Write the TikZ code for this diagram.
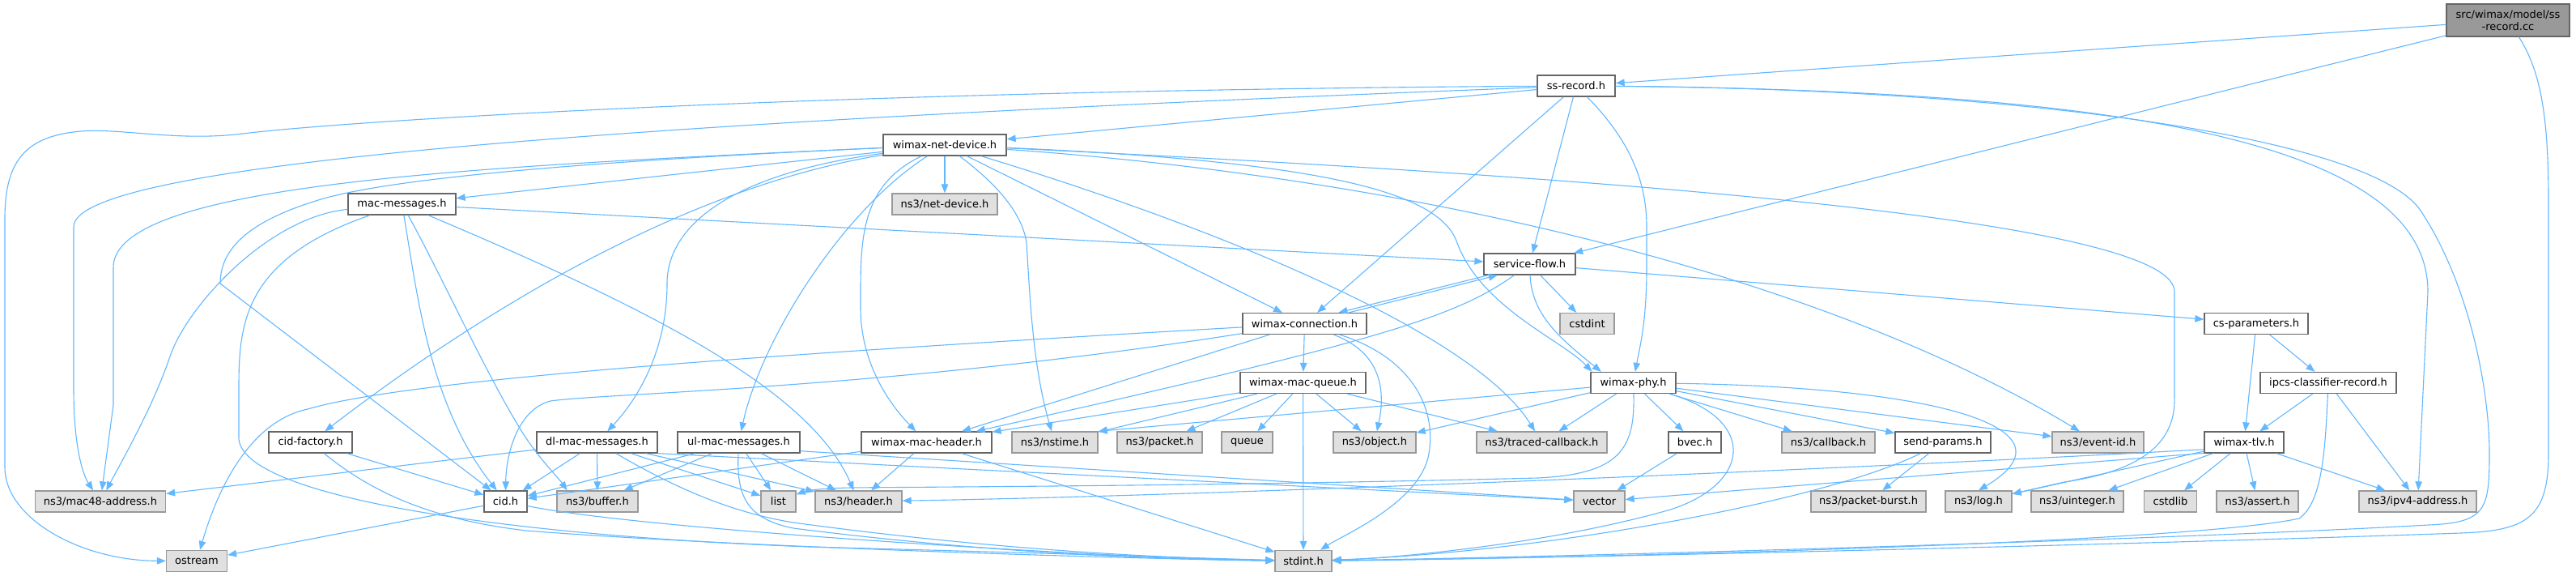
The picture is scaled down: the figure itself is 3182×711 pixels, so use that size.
\documentclass[tikz,border=0pt]{standalone}
\usepackage{fontspec}
\setmainfont{DejaVu Sans}
\usetikzlibrary{arrows.meta}
\definecolor{edgec}{HTML}{63B8FF}
\definecolor{bdark}{HTML}{666666}
\definecolor{blight}{HTML}{999999}
\definecolor{fgray}{HTML}{E0E0E0}
\definecolor{fmain}{HTML}{999999}
\begin{document}
\begin{tikzpicture}[x=1pt,y=-1pt,
  font=\fontsize{13}{15}\selectfont,
  wn/.style={draw=bdark, fill=white, line width=1.3pt, minimum height=26pt, inner sep=0pt},
  gn/.style={draw=blight, fill=fgray, line width=1.3pt, minimum height=26pt, inner sep=0pt},
  mn/.style={draw=bdark, fill=fmain, line width=1.3pt, minimum height=40pt, inner sep=0pt, align=center},
  e/.style={draw=edgec, line width=1.1pt, -{Triangle[length=11pt,width=8.5pt]}}]
\useasboundingbox (0,0) rectangle (3182,711);
\fill[white] (0,0) rectangle (3182,711);

% ---------- nodes ----------
\node[mn, minimum width=152pt] (cc) at (3098,25) {src/wimax/model/ss\\-record.cc};
\node[wn, minimum width=96pt] (ss) at (1947,106) {ss-record.h};
\node[wn, minimum width=152pt] (wnd) at (1167,179) {wimax-net-device.h};
\node[gn, minimum width=130pt] (ndev) at (1167,252) {ns3/net-device.h};
\node[wn, minimum width=133pt] (mm) at (496.5,252) {mac-messages.h};
\node[wn, minimum width=113pt] (sf) at (1889.5,326) {service-flow.h};
\node[wn, minimum width=153pt] (wc) at (1611.5,399.5) {wimax-connection.h};
\node[gn, minimum width=67pt] (cstdint) at (1960.5,399.5) {cstdint};
\node[wn, minimum width=128pt] (csp) at (2787,399.5) {cs-parameters.h};
\node[wn, minimum width=155pt] (wmq) at (1609.5,472.5) {wimax-mac-queue.h};
\node[wn, minimum width=105pt] (wphy) at (2017.5,472.5) {wimax-phy.h};
\node[wn, minimum width=168pt] (ipcs) at (2876,472.5) {ipcs-classifier-record.h};
% row 546
\node[wn, minimum width=103pt] (cidf) at (383.5,546) {cid-factory.h};
\node[wn, minimum width=149pt] (dl) at (737.5,546) {dl-mac-messages.h};
\node[wn, minimum width=151pt] (ul) at (912.5,546) {ul-mac-messages.h};
\node[wn, minimum width=161pt] (wmh) at (1144.5,546) {wimax-mac-header.h};
\node[gn, minimum width=106pt] (nstime) at (1303,546) {ns3/nstime.h};
\node[gn, minimum width=105pt] (packet) at (1432.5,546) {ns3/packet.h};
\node[gn, minimum width=63pt] (queue) at (1540.5,546) {queue};
\node[gn, minimum width=102pt] (object) at (1698,546) {ns3/object.h};
\node[gn, minimum width=161pt] (tcb) at (1904.5,546) {ns3/traced-callback.h};
\node[wn, minimum width=65pt] (bvec) at (2093.5,546) {bvec.h};
\node[gn, minimum width=115pt] (cbk) at (2258.5,546) {ns3/callback.h};
\node[wn, minimum width=118pt] (sp) at (2400,546) {send-params.h};
\node[gn, minimum width=113pt] (eid) at (2591.5,546) {ns3/event-id.h};
\node[wn, minimum width=98pt] (tlv) at (2772,546) {wimax-tlv.h};
% row 619
\node[gn, minimum width=161pt] (mac48) at (124,619) {ns3/mac48-address.h};
\node[wn, minimum width=53pt] (cid) at (624.5,619) {cid.h};
\node[gn, minimum width=100pt] (buf) at (738,619) {ns3/buffer.h};
\node[gn, minimum width=43pt] (list) at (961.5,619) {list};
\node[gn, minimum width=107pt] (hdr) at (1060.5,619) {ns3/header.h};
\node[gn, minimum width=63pt] (vec) at (1975.5,619) {vector};
\node[gn, minimum width=142pt] (pb) at (2308,619) {ns3/packet-burst.h};
\node[gn, minimum width=82pt] (log) at (2444,619) {ns3/log.h};
\node[gn, minimum width=114pt] (uint) at (2566,619) {ns3/uinteger.h};
\node[gn, minimum width=65pt] (cstdlib) at (2681,619) {cstdlib};
\node[gn, minimum width=101pt] (assert) at (2788.5,619) {ns3/assert.h};
\node[gn, minimum width=145pt] (ipv4) at (2986.5,619) {ns3/ipv4-address.h};
% row 692
\node[gn, minimum width=75pt] (ostream) at (243,692.5) {ostream};
\node[gn, minimum width=70pt] (stdint) at (1610,692.5) {stdint.h};

% ---------- edges ----------
% ss-record.cc
\draw[e] (cc) -- (ss);
\draw[e] (cc) -- (sf);
\draw[e] (cc) .. controls (3140,90) and (3148,150) .. (3148,250) -- (3148,560) .. controls (3148,640) and (3120,655) .. (3040,658) .. controls (2700,670) and (2000,688) .. (stdint);

% ss-record.h
\draw[e] (ss) -- (wnd);
\draw[e] (ss) -- (sf);
\draw[e] (ss) -- (wc);
\draw[e] (ss) .. controls (2010,170) and (2034,220) .. (2034,280) -- (2034,330) .. controls (2034,400) and (2025,430) .. (wphy);
\draw[e] (ss) .. controls (800,150) and (91,200) .. (91,280) -- (91,480) .. controls (91,560) and (105,590) .. (mac48);
\draw[e] (ss) .. controls (1000,112) and (420,150) .. (300,165) .. controls (220,175) and (150,158) .. (100,162) .. controls (30,168) and (6,200) .. (6,270) -- (6,577) .. controls (6,640) and (100,692) .. (ostream);
\draw[e] (ss) .. controls (2600,112) and (2999,170) .. (2999,360) -- (ipv4);
\draw[e] (ss) .. controls (2500,110) and (2930,170) .. (2990,260) .. controls (3050,350) and (3075,480) .. (3075,560) .. controls (3075,630) and (3070,645) .. (3000,648) .. controls (2700,665) and (2000,686) .. (stdint);

% wimax-net-device.h
\draw[e] (wnd) .. controls (600,205) and (140,225) .. (140,330) -- (140,500) -- (mac48);
\draw[e] (wnd) .. controls (700,200) and (470,222) .. (390,248) .. controls (320,270) and (272,300) .. (272,350) -- (cid);
\draw[e] (wnd) -- (mm);
\draw[e] (wnd) .. controls (900,215) and (824,280) .. (824,350) .. controls (824,430) and (790,490) .. (dl);
\draw[e] (wnd) .. controls (850,230) and (600,380) .. (cidf);
\draw[e] (wnd) .. controls (1040,260) and (940,420) .. (ul);
\draw[e] (wnd) .. controls (1060,230) and (1063,300) .. (1063,380) .. controls (1063,450) and (1100,500) .. (wmh);
\draw[e] (wnd) -- (ndev);
\draw[e] (wnd) .. controls (1215,215) and (1262,255) .. (1268,300) .. controls (1272,360) and (1275,450) .. (nstime);
\draw[e] (wnd) -- (wc);
\draw[e] (wnd) .. controls (1500,280) and (1820,410) .. (tcb);
\draw[e] (wnd) .. controls (1650,200) and (1780,240) .. (1800,300) .. controls (1830,380) and (1930,420) .. (wphy.165);
\draw[e] (wnd) .. controls (1800,210) and (2686,260) .. (2686,360) -- (2686,490) .. controls (2688,550) and (2640,582) .. (2550,595) -- (log);
\draw[e] (wnd) .. controls (1750,220) and (2250,340) .. (eid);

% mac-messages.h
\draw[e] (mm) .. controls (330,268) and (230,380) .. (210,440) .. controls (190,500) and (150,570) .. (mac48);
\draw[e] (mm) .. controls (300,320) and (295,400) .. (295,480) -- (295,540) .. controls (295,610) and (600,660) .. (1000,675) .. controls (1300,683) and (1450,688) .. (stdint);
\draw[e] (mm) .. controls (515,360) and (530,500) .. (cid);
\draw[e] (mm) .. controls (540,330) and (600,460) .. (640,525) .. controls (660,560) and (690,590) .. (buf.160);
\draw[e] (mm) .. controls (800,380) and (1000,480) .. (hdr);
\draw[e] (mm) -- (sf);

% cid-factory.h
\draw[e] (cidf) -- (cid);
\draw[e] (cidf) .. controls (450,600) and (520,640) .. (650,655) .. controls (900,675) and (1400,690) .. (stdint);

% cid.h
\draw[e] (cid) -- (ostream);
\draw[e] (cid) .. controls (800,655) and (1400,690) .. (stdint);

% dl-mac-messages.h
\draw[e] (dl) -- (mac48);
\draw[e] (dl) -- (cid);
\draw[e] (dl) -- (buf);
\draw[e] (dl) .. controls (830,600) and (900,632) .. (980,645) .. controls (1200,675) and (1400,688) .. (stdint);
\draw[e] (dl) -- (list);
\draw[e] (dl) -- (hdr);
\draw[e] (dl.south east) -- (vec);

% ul-mac-messages.h
\draw[e] (ul) -- (cid);
\draw[e] (ul) -- (buf);
\draw[e] (ul) .. controls (910,610) and (920,640) .. (980,652) .. controls (1200,680) and (1400,690) .. (stdint);
\draw[e] (ul) -- (list);
\draw[e] (ul) -- (hdr);
\draw[e] (ul.-8) -- (vec);

% wimax-mac-header.h
\draw[e] (wmh) -- (cid);
\draw[e] (wmh) -- (hdr);
\draw[e] (wmh) -- (stdint);

% wimax-connection.h
\draw[e] (wc) .. controls (900,440) and (500,470) .. (380,505) .. controls (310,520) and (270,600) .. (ostream);
\draw[e] (wc) .. controls (1100,480) and (750,485) .. (680,495) .. controls (640,505) and (625,560) .. (cid);
\draw[e] (wc) -- (wmh);
\draw[e] (wc) -- (wmq);
\draw[e] (wc) .. controls (1705,435) and (1712,480) .. (object);
\draw[e] (wc) .. controls (1740,440) and (1775,500) .. (1765,560) .. controls (1755,620) and (1660,660) .. (stdint);
\draw[e] (wc.14) -- (sf.199);

% service-flow.h
\draw[e] (sf.195) -- (wc.18);
\draw[e] (sf) .. controls (1800,390) and (1710,420) .. (wmh);
\draw[e] (sf) -- (cstdint);
\draw[e] (sf) .. controls (1892,390) and (1930,420) .. (wphy.161);
\draw[e] (sf) -- (csp);

% wimax-mac-queue.h
\draw[e] (wmq) -- (wmh);
\draw[e] (wmq) -- (nstime);
\draw[e] (wmq) -- (packet);
\draw[e] (wmq) -- (queue);
\draw[e] (wmq) -- (stdint);
\draw[e] (wmq) -- (object);
\draw[e] (wmq) -- (tcb);

% wimax-phy.h
\draw[e] (wphy.186) -- (nstime.north east);
\draw[e] (wphy) -- (object);
\draw[e] (wphy) -- (tcb);
\draw[e] (wphy) -- (bvec);
\draw[e] (wphy) .. controls (2020,555) and (2000,585) .. (1900,590) .. controls (1500,600) and (1150,601) .. (1050,602) .. controls (1010,603) and (995,606) .. (list);
\draw[e] (wphy) -- (cbk);
\draw[e] (wphy) -- (sp);
\draw[e] (wphy) -- (eid);
\draw[e] (wphy) .. controls (2400,478) and (2570,530) .. (log.north);
\draw[e] (wphy) .. controls (2175,520) and (2160,600) .. (2060,630) .. controls (1900,675) and (1700,690) .. (stdint);

% bvec.h, send-params.h
\draw[e] (bvec) -- (vec);
\draw[e] (sp) -- (pb);
\draw[e] (sp) .. controls (2250,620) and (1900,682) .. (stdint);

% cs-parameters.h, ipcs-classifier-record.h
\draw[e] (csp) -- (tlv);
\draw[e] (csp) -- (ipcs);
\draw[e] (ipcs) -- (tlv);
\draw[e] (ipcs) -- (ipv4);
\draw[e] (ipcs) .. controls (2872,560) and (2868,620) .. (2840,640) .. controls (2700,670) and (2000,688) .. (stdint);

% wimax-tlv.h
\draw[e] (tlv.190) .. controls (2300,578) and (1500,612) .. (hdr);
\draw[e] (tlv.195) -- (vec);
\draw[e] (tlv) -- (log);
\draw[e] (tlv) -- (uint);
\draw[e] (tlv) -- (cstdlib);
\draw[e] (tlv) -- (assert);
\draw[e] (tlv) -- (ipv4);
\end{tikzpicture}
\end{document}
